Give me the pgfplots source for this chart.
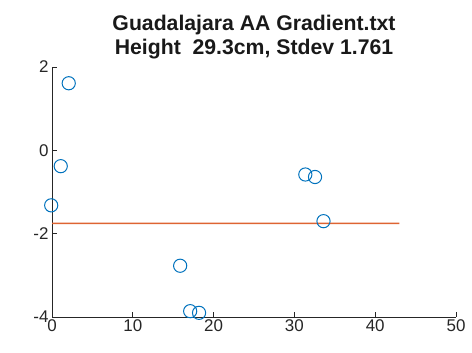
\documentclass[border=0pt]{standalone}
\usepackage{pgfplots}
\pgfplotsset{compat=1.18}
\usepackage{fontspec}
\setmainfont{Liberation Sans}
\definecolor{mblue}{rgb}{0,0.447,0.741}
\definecolor{lineorange}{RGB}{222,100,50}
\definecolor{axgray}{rgb}{0.15,0.15,0.15}
\begin{document}
\begin{tikzpicture}[x=1bp,y=1bp]
\useasboundingbox (0,0) rectangle (472,352);
\begin{axis}[
  at={(52bp,35bp)}, anchor=south west,
  scale only axis, width=404bp, height=250bp,
  xmin=0, xmax=50, ymin=-4, ymax=2,
  axis lines*=left,
  axis line style={axgray, line width=0.7pt},
  tick align=inside,
  tick style={axgray, line width=0.7pt},
  major tick length=5bp,
  xtick={0,10,20,30,40,50},
  ytick={-4,-2,0,2},
  ticklabel style={font=\fontsize{17}{19}\selectfont, text=axgray},
  xticklabel style={yshift=1bp},
  /pgf/number format/assume math mode=true,
  clip=false,
  title style={align=center, font=\bfseries\fontsize{21.3}{23.5}\selectfont, yshift=-1bp, text=black!90},
  title={Guadalajara AA Gradient.txt\\Height\ \ 29.3cm, Stdev 1.761},
]
\addplot[draw=lineorange, line width=1.4pt, mark=none] coordinates {
(0,-1.752) (21.5,-1.7515) (43,-1.752)
};
\addplot[only marks, mark=o, mark size=6.6bp, color=mblue, line width=1pt] coordinates {
(-0.1,-1.32) (1.08,-0.38) (2.07,1.61) (15.86,-2.77) (17.1,-3.86) (18.2,-3.90)
(31.35,-0.58) (32.55,-0.64) (33.6,-1.70)
};
\end{axis}
\end{tikzpicture}
\end{document}
